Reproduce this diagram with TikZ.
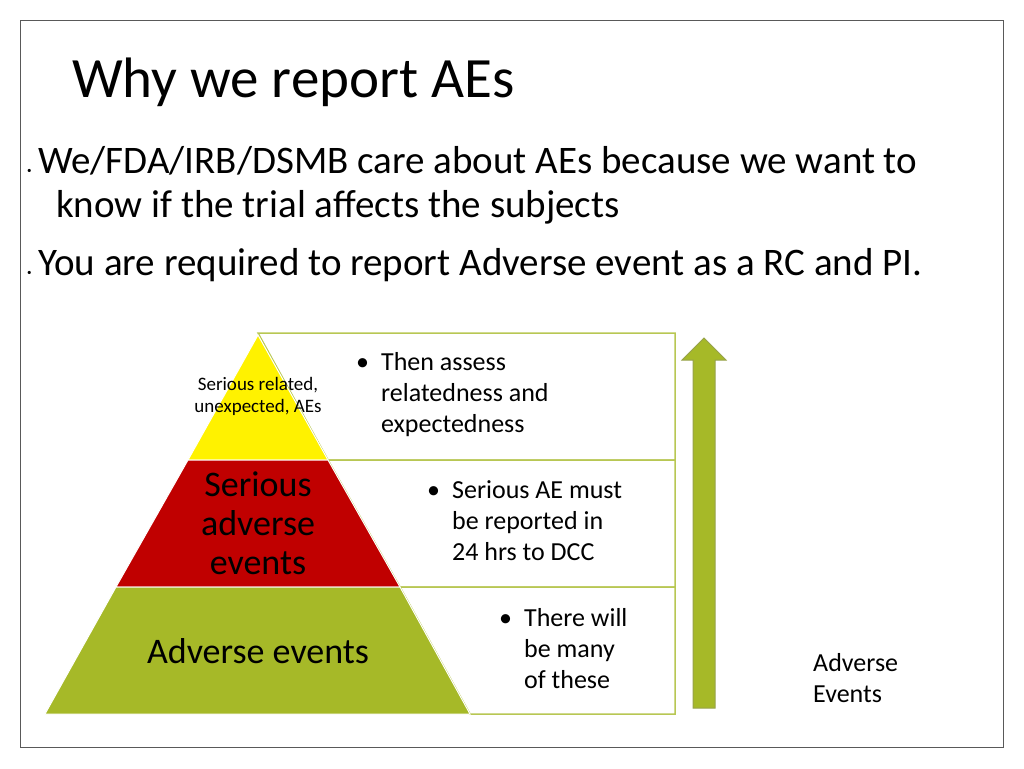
\documentclass[tikz,border=0pt]{standalone}
\usepackage{fontspec}
\setmainfont{Carlito}
\usetikzlibrary{positioning,shapes.arrows}
\definecolor{olive}{RGB}{166,185,40}
\definecolor{darkred}{RGB}{192,0,0}
\begin{document}
\begin{tikzpicture}[x=1pt,y=-1pt,
          layer/.style={draw=white,line width=1pt},
          cell/.style={draw=olive!80,line width=1.5pt,fill=white},
          note/.style={align=left,font=\fontsize{26}{31}\selectfont,anchor=north west,inner sep=0pt},
          bull/.style={font=\fontsize{39}{44}\selectfont,anchor=north west,align=left,inner sep=0pt}
        ]
        \useasboundingbox (0,0) rectangle (1024,768);
        \draw[gray!70!black] (20,20) rectangle (1003,747);
        %title and bullets
        \node[anchor=base west,inner sep=0pt,font=\fontsize{57}{60}\selectfont] (title) at (72,97) {Why we report AEs};
        \node[bull] (b1) at (27,146) {{\small\textbullet}\,We/FDA/IRB/DSMB care about AEs because we want to\\\hspace*{29pt}know if the trial affects the subjects};
        \node[bull] (b2) at (27,248) {{\small\textbullet}\,You are required to report Adverse event as a RC and PI.};
        %boxes
        \draw[cell] (258,333) -- (675,333) -- (675,460) -- (328,460) -- cycle;
        \draw[cell] (328,460) -- (675,460) -- (675,587) -- (400,587) -- cycle;
        \draw[cell] (400,587) -- (675,587) -- (675,714) -- (470,714) -- cycle;
        %pyramid
        \fill[yellow,layer] (258,335) -- (328,460) -- (188,460) -- cycle;
        \fill[darkred,layer] (188,460) -- (328,460) -- (400,587) -- (116,587) -- cycle;
        \fill[olive,layer] (116,587) -- (400,587) -- (470,714) -- (45,714) -- cycle;
        \node[align=center,font=\fontsize{19}{22}\selectfont] (top) at (258,396) {Serious related,\\unexpected, AEs};
        \node[align=center,font=\fontsize{36}{39}\selectfont] (mid) at (258,523) {Serious\\adverse\\events};
        \node[font=\fontsize{36}{40}\selectfont] (low) at (258,651) {Adverse events};
        %notes
        \node[note] (n1) at (356,352) {\textbullet\hspace{12pt}\parbox[t]{220pt}{Then assess\\relatedness and\\expectedness}};
        \node[note] (n2) at (427,480) {\textbullet\hspace{12pt}\parbox[t]{220pt}{Serious AE must\\be reported in\\24 hrs to DCC}};
        \node[note] (n3) at (499,608) {\textbullet\hspace{12pt}\parbox[t]{140pt}{There will\\be many\\of these}};
        %arrow
        \draw[fill=olive,draw=olive!60!gray,line width=1pt] (693,708) -- (693,360) -- (682,360) -- (704,338) -- (726,360) -- (715,360) -- (715,708) -- cycle;
        \node[note] (ae) at (813,653) {Adverse\\Events};
\end{tikzpicture}
\end{document}
